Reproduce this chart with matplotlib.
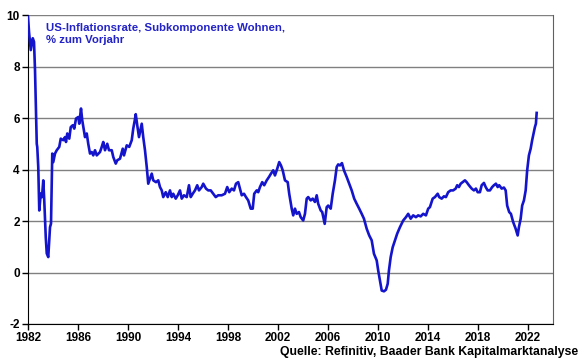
import matplotlib.pyplot as plt

plt.rcParams['font.family'] = ['Liberation Sans', 'DejaVu Sans']
plt.rcParams['axes.unicode_minus'] = False

# x: decimal years, y: % zum Vorjahr
years = [
    1982.00, 1982.08, 1982.22, 1982.38, 1982.48, 1982.56, 1982.70, 1982.74, 1982.82, 1982.90,
    1983.02, 1983.12, 1983.22, 1983.30, 1983.42, 1983.50, 1983.62, 1983.76, 1983.84, 1983.94,
    1984.02, 1984.16, 1984.30, 1984.50, 1984.62, 1984.82, 1984.96, 1985.04, 1985.14, 1985.30,
    1985.42, 1985.58, 1985.70, 1985.84, 1986.02, 1986.10, 1986.24, 1986.34, 1986.56, 1986.70,
    1986.82, 1986.96, 1987.10, 1987.22, 1987.36, 1987.50, 1987.76, 1987.90, 1988.02, 1988.16,
    1988.34, 1988.48, 1988.70, 1988.82, 1989.02, 1989.14, 1989.36, 1989.58, 1989.68, 1989.90,
    1990.10, 1990.30, 1990.42, 1990.54, 1990.62, 1990.74, 1990.88, 1991.10, 1991.22, 1991.36,
    1991.50, 1991.62, 1991.76, 1991.90, 1992.02, 1992.24, 1992.42, 1992.56, 1992.70, 1992.82,
    1993.02, 1993.18, 1993.36, 1993.50, 1993.62, 1993.82, 1993.98, 1994.16, 1994.30, 1994.48,
    1994.70, 1994.88, 1995.02, 1995.18, 1995.36, 1995.54, 1995.68, 1995.90, 1996.02, 1996.24,
    1996.42, 1996.62, 1996.82, 1997.02, 1997.22, 1997.50, 1997.76, 1997.94, 1998.10, 1998.30,
    1998.48, 1998.64, 1998.82, 1998.96, 1999.10, 1999.28, 1999.44, 1999.62, 1999.82, 1999.98,
    2000.10, 2000.30, 2000.42, 2000.56, 2000.74, 2000.90, 2001.10, 2001.28, 2001.44, 2001.62,
    2001.76, 2001.94, 2002.10, 2002.24, 2002.38, 2002.56, 2002.78, 2002.90, 2003.10, 2003.22,
    2003.36, 2003.50, 2003.68, 2003.82, 2004.02, 2004.16, 2004.30, 2004.42, 2004.62, 2004.78,
    2004.96, 2005.10, 2005.22, 2005.42, 2005.54, 2005.74, 2005.90, 2006.02, 2006.22, 2006.38,
    2006.56, 2006.70, 2006.82, 2006.96, 2007.12, 2007.28, 2007.50, 2007.70, 2007.90, 2008.10,
    2008.30, 2008.50, 2008.70, 2008.88, 2009.10, 2009.30, 2009.50, 2009.68, 2009.90, 2010.02,
    2010.16, 2010.30, 2010.48, 2010.64, 2010.78, 2010.88, 2011.02, 2011.18, 2011.36, 2011.54,
    2011.76, 2012.02, 2012.24, 2012.42, 2012.62, 2012.82, 2013.04, 2013.22, 2013.42, 2013.62,
    2013.84, 2014.02, 2014.16, 2014.38, 2014.56, 2014.78, 2014.90, 2015.10, 2015.28, 2015.44,
    2015.62, 2015.82, 2016.02, 2016.22, 2016.34, 2016.48, 2016.62, 2016.78, 2016.96, 2017.10,
    2017.28, 2017.50, 2017.68, 2017.84, 2017.98, 2018.16, 2018.30, 2018.48, 2018.62, 2018.78,
    2018.96, 2019.14, 2019.28, 2019.44, 2019.58, 2019.70, 2019.90, 2020.08, 2020.22, 2020.34,
    2020.50, 2020.64, 2020.82, 2021.02, 2021.18, 2021.28, 2021.42, 2021.54, 2021.68, 2021.82,
    2021.94, 2022.08, 2022.22, 2022.34, 2022.48, 2022.56, 2022.64, 2022.70,
]
values = [
    9.93, 9.35, 8.64, 9.10, 8.96, 7.86, 5.00, 4.87, 4.10, 2.41,
    3.07, 2.93, 3.58, 2.80, 1.37, 0.74, 0.60, 1.76, 1.90, 4.62,
    4.29, 4.62, 4.75, 4.88, 5.20, 5.14, 5.26, 5.07, 5.40, 5.20,
    5.65, 5.72, 5.59, 5.98, 6.04, 5.78, 6.37, 5.91, 5.26, 5.40,
    5.00, 4.62, 4.68, 4.55, 4.75, 4.55, 4.68, 4.88, 5.07, 4.75,
    5.00, 4.75, 4.75, 4.49, 4.23, 4.36, 4.42, 4.81, 4.55, 4.94,
    4.88, 5.14, 5.59, 5.91, 6.15, 5.72, 5.26, 5.78, 5.26, 4.75,
    4.10, 3.45, 3.65, 3.84, 3.58, 3.51, 3.58, 3.32, 3.19, 2.93,
    3.12, 2.93, 3.19, 2.93, 3.06, 2.87, 3.00, 3.19, 2.87, 3.00,
    2.93, 3.39, 2.93, 3.06, 3.19, 3.39, 3.19, 3.32, 3.45, 3.26,
    3.19, 3.19, 3.06, 2.93, 3.00, 3.00, 3.06, 3.32, 3.12, 3.26,
    3.19, 3.45, 3.51, 3.26, 3.00, 3.06, 2.93, 2.80, 2.48, 2.48,
    3.06, 3.19, 3.12, 3.32, 3.51, 3.39, 3.58, 3.71, 3.84, 3.97,
    3.77, 4.03, 4.29, 4.16, 3.97, 3.58, 3.51, 3.06, 2.48, 2.22,
    2.48, 2.28, 2.35, 2.15, 2.02, 2.28, 2.87, 2.93, 2.80, 2.87,
    2.74, 3.00, 2.67, 2.41, 2.35, 1.89, 2.54, 2.60, 2.48, 3.06,
    3.58, 4.10, 4.20, 4.16, 4.25, 3.97, 3.71, 3.45, 3.19, 2.87,
    2.67, 2.48, 2.28, 2.09, 1.70, 1.44, 1.25, 0.73, 0.47, 0.08,
    -0.31, -0.70, -0.73, -0.67, -0.44, 0.08, 0.60, 0.98, 1.25, 1.51,
    1.76, 2.02, 2.15, 2.28, 2.09, 2.22, 2.15, 2.22, 2.18, 2.28,
    2.22, 2.48, 2.54, 2.87, 2.93, 3.06, 2.93, 2.87, 2.96, 2.93,
    3.12, 3.19, 3.19, 3.26, 3.39, 3.32, 3.45, 3.51, 3.58, 3.51,
    3.39, 3.26, 3.19, 3.26, 3.12, 3.12, 3.39, 3.48, 3.32, 3.19,
    3.19, 3.32, 3.39, 3.45, 3.32, 3.39, 3.26, 3.30, 3.19, 2.60,
    2.35, 2.28, 1.96, 1.70, 1.44, 1.76, 2.09, 2.60, 2.80, 3.19,
    3.97, 4.55, 4.81, 5.14, 5.46, 5.65, 5.78, 6.20,
]

x_ticks = list(range(1982, 2023, 4))
y_ticks = [-2, 0, 2, 4, 6, 8, 10]

fig = plt.figure(figsize=(5.8, 3.59), dpi=100)
ax = fig.add_axes([0.0483, 0.0975, 0.905, 0.8605])

ax.plot(years, values, color='#1414cc', lw=1.9, zorder=3)

ax.set_xlim(1982, 2024)
ax.set_ylim(-2, 10)
ax.set_xticks(x_ticks)
ax.set_yticks(y_ticks)
ax.yaxis.grid(True, color='#808080', lw=1)
ax.set_axisbelow(True)

ax.spines['top'].set_visible(False)
ax.spines['right'].set_color('#606060')
ax.tick_params(axis='both', direction='out', length=4, width=1,
               labelsize=8.5, pad=2)
for lab in ax.get_xticklabels() + ax.get_yticklabels():
    lab.set_fontweight('bold')

ax.text(0.035, 0.975, 'US-Inflationsrate, Subkomponente Wohnen,\n% zum Vorjahr',
        transform=ax.transAxes, ha='left', va='top', fontsize=8.2,
        fontweight='bold', color='#2323c8', linespacing=1.25)

fig.text(0.997, 0.004, 'Quelle: Refinitiv, Baader Bank Kapitalmarktanalyse',
         ha='right', va='bottom', fontsize=8.8, fontweight='bold')

fig.savefig('out.png', dpi=100)
